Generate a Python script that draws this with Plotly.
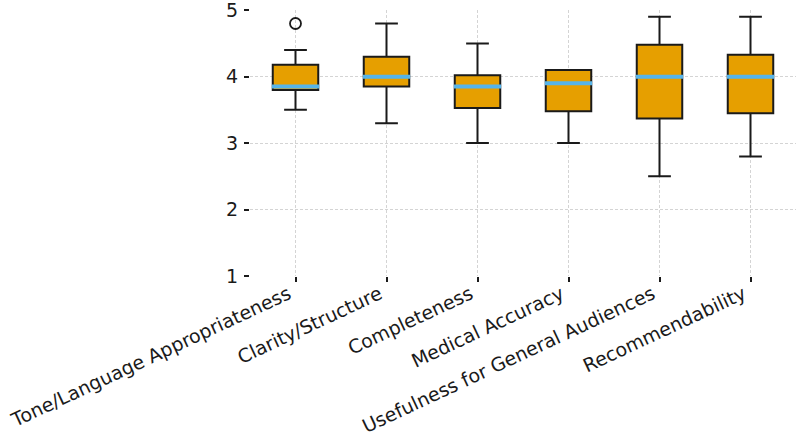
import plotly.graph_objects as go

categories = ["Tone/Language Appropriateness", "Clarity/Structure", "Completeness",
              "Medical Accuracy", "Usefulness for General Audiences", "Recommendability"]
lower_whisker = [3.5, 3.3, 3.0, 3.0, 2.5, 2.8]
q1_values = [3.8, 3.85, 3.53, 3.48, 3.37, 3.45]
medians = [3.85, 4.0, 3.85, 3.9, 4.0, 4.0]
q3_values = [4.18, 4.3, 4.02, 4.1, 4.48, 4.33]
upper_whisker = [4.4, 4.8, 4.5, 4.1, 4.9, 4.9]
outlier_cat = [1]
outlier_val = [4.8]
y_ticks = [1, 2, 3, 4, 5]

positions = list(range(1, len(categories) + 1))
BOX_W = 0.5

fig = go.Figure()
for i, p in enumerate(positions):
    fig.add_trace(go.Box(
        x=[p], q1=[q1_values[i]], median=[medians[i]], q3=[q3_values[i]],
        lowerfence=[lower_whisker[i]], upperfence=[upper_whisker[i]],
        width=BOX_W, whiskerwidth=0.5,
        fillcolor="#E69F00", line=dict(color="#1a1a1a", width=2),
        boxpoints=False, showlegend=False, hoverinfo="skip",
    ))
for i, p in enumerate(positions):
    fig.add_trace(go.Scatter(
        x=[p - BOX_W / 2 - 0.01, p + BOX_W / 2 + 0.01], y=[medians[i], medians[i]],
        mode="lines", line=dict(color="#56B4E9", width=4),
        showlegend=False, hoverinfo="skip",
    ))
fig.add_trace(go.Scatter(
    x=outlier_cat, y=outlier_val, mode="markers",
    marker=dict(symbol="circle-open", size=11, color="#1a1a1a", line=dict(width=1.8)),
    showlegend=False, hoverinfo="skip",
))

font = dict(family="DejaVu Sans", size=19, color="#1a1a1a")
grid = dict(showgrid=True, gridcolor="#d4d4d4", griddash="3px,2px", gridwidth=1)
fig.update_layout(
    width=800, height=437,
    margin=dict(l=250, r=4, t=10, b=161, autoexpand=False),
    plot_bgcolor="white", paper_bgcolor="white",
    font=font,
    xaxis=dict(
        range=[0.5, len(categories) + 0.5], automargin=False,
        tickmode="array", tickvals=positions, ticktext=categories,
        tickangle=-25, ticks="outside", ticklen=5, tickwidth=1.5, tickcolor="#1a1a1a",
        ticklabelshift=-7, ticklabelstandoff=-6,
        showline=False, zeroline=False, tickfont=font, **grid,
    ),
    yaxis=dict(
        range=[1, 5.003], automargin=False,
        tickmode="array", tickvals=y_ticks,
        ticks="outside", ticklen=5, tickwidth=1.5, tickcolor="#1a1a1a",
        ticklabeloverflow="allow", ticklabelstandoff=2,
        showline=False, zeroline=False, tickfont=font, **grid,
    ),
)
fig.write_html("out.html")
